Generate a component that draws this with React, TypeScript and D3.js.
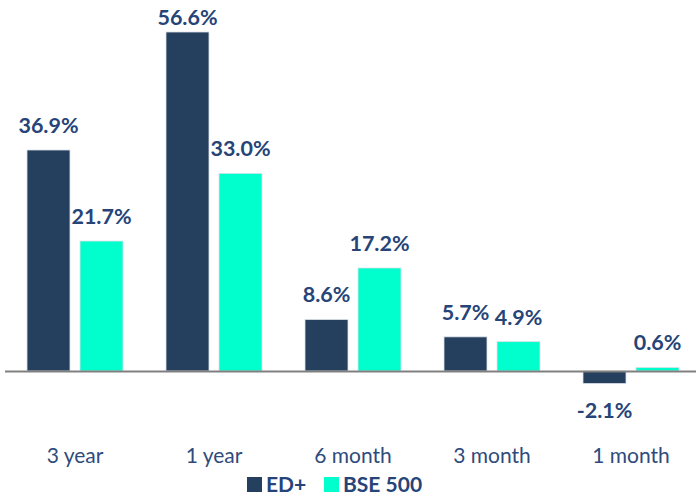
import React from "react";
import * as d3 from "d3";

const categories = ["3 year", "1 year", "6 month", "3 month", "1 month"];
const seriesNames = ["ED+", "BSE 500"];
const edPlus = [36.9, 56.6, 8.6, 5.7, -2.1];
const bse500 = [21.7, 33.0, 17.2, 4.9, 0.6];
const colors = ["#253F5E", "#00FFCC"];

const W = 696;
const H = 495;
const FONT = "Lato, 'Open Sans', sans-serif";
const LABEL_COLOR = "#264478";
const CAT_COLOR = "#2E4B7C";

export default function App() {
  const x = d3.scaleBand<string>().domain(categories).range([5.5, 700.5]).padding(0);
  const xInner = d3
    .scaleBand<string>()
    .domain(seriesNames)
    .range([21.5, 117.5])
    .paddingInner(0.189)
    .paddingOuter(0);
  const y = d3.scaleLinear().domain([0, 56.6]).range([371, 32]);
  const series = [edPlus, bse500];

  return (
    <svg
      width={W}
      height={H}
      style={{ position: "absolute", left: 0, top: 0, background: "#fff" }}
      fontFamily={FONT}
    >
      {series.map((vals, si) =>
        vals.map((v, ci) => {
          const bx = (x(categories[ci]) ?? 0) + (xInner(seriesNames[si]) ?? 0);
          const bw = xInner.bandwidth();
          const top = Math.min(y(v), y(0));
          const h = Math.abs(y(v) - y(0));
          const cx = bx + bw / 2;
          const ly = v >= 0 ? Math.max(y(v) - 17, 25) : y(v) + 34;
          return (
            <g key={`${si}-${ci}`}>
              <rect x={bx} y={top} width={bw} height={h} fill={colors[si]} stroke="#dde2ea" strokeWidth={0.8} />
              <text
                x={cx}
                y={ly}
                textAnchor="middle"
                fontWeight="bold"
                fontSize={21.5}
                fill={LABEL_COLOR}
              >
                {v.toFixed(1)}%
              </text>
            </g>
          );
        })
      )}
      <line x1={5} x2={W} y1={y(0) + 0.5} y2={y(0) + 0.5} stroke="#808080" strokeWidth={2} />
      {categories.map((c) => (
        <text
          key={c}
          x={(x(c) ?? 0) + x.bandwidth() / 2}
          y={463}
          textAnchor="middle"
          fontSize={21}
          fill={CAT_COLOR}
        >
          {c}
        </text>
      ))}
      {seriesNames.map((s, i) => {
        const lx = i === 0 ? 247 : 324;
        return (
          <g key={s}>
            <rect x={lx} y={477} width={15} height={15} fill={colors[i]} />
            <text x={lx + 19} y={492} fontSize={21} fontWeight="bold" fill={LABEL_COLOR}>
              {s}
            </text>
          </g>
        );
      })}
    </svg>
  );
}
